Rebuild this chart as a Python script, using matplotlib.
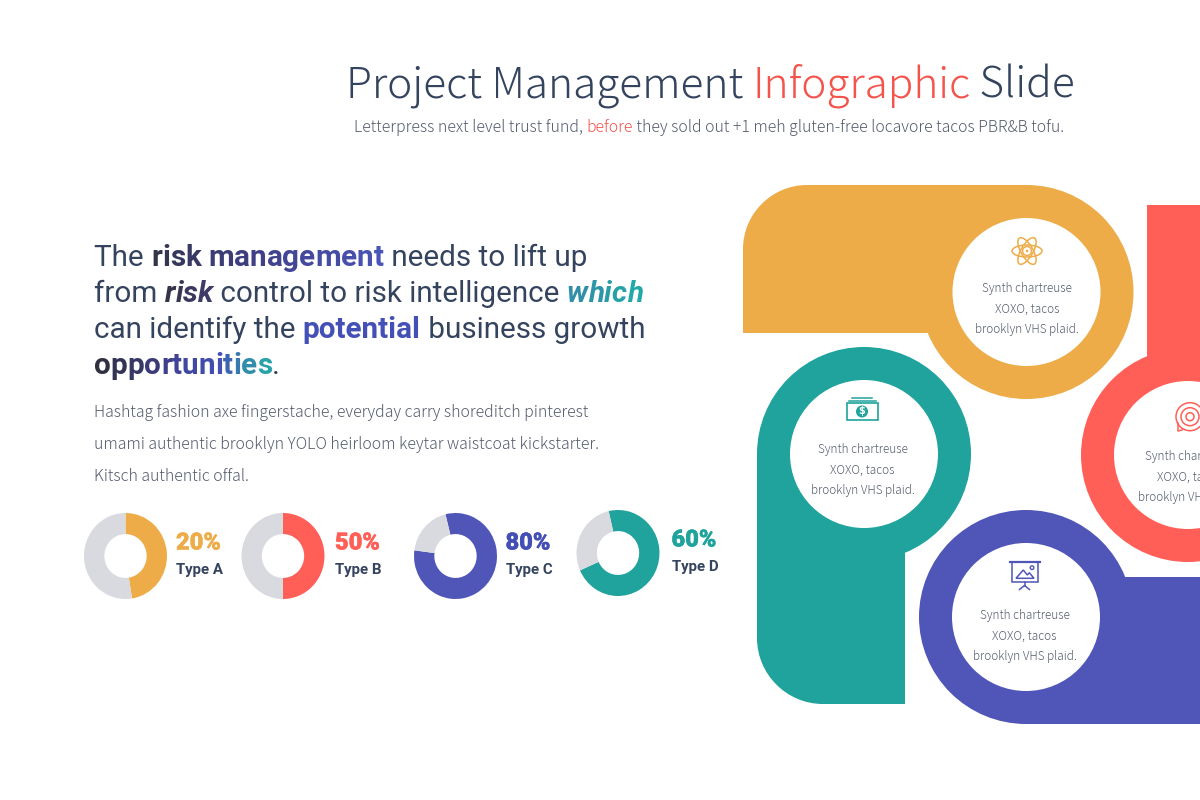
import matplotlib
matplotlib.use('Agg')
import matplotlib.pyplot as plt
import matplotlib.patheffects as pe
from matplotlib.colors import to_rgb
from matplotlib.patches import Circle, Ellipse, PathPatch, Polygon, Rectangle
from matplotlib.path import Path

NAVY = '#34435e'
GREY = '#555c6d'
AMBER = '#edac47'
RED = '#ff5f57'
PURPLE = '#5056b8'
TEAL = '#1fa39c'
RING = '#d9dadf'
SANS = 'Noto Sans CJK JP'
ROBOTO = 'Roboto'

# donuts: printed label and the share each ring really shows
donut_labels = ['20%', '50%', '80%', '60%']
donut_names = ['Type A', 'Type B', 'Type C', 'Type D']
donut_shares = [47.5, 50, 81, 72]
donut_colors = [AMBER, RED, PURPLE, TEAL]
donut_label_colors = [AMBER, RED, '#444fb5', TEAL]
donut_start = [0, 0, -14, -13]
donut_cx = [125.5, 283, 455.5, 618]
donut_cy = [556, 556, 556, 553]
donut_label_x = [176, 335, 505.5, 671.5]

body_lines = ['Hashtag fashion axe fingerstache, everyday carry shoreditch pinterest',
              'umami authentic brooklyn YOLO heirloom keytar waistcoat kickstarter.',
              'Kitsch authentic offal.']
circle_lines = ['Synth chartreuse', 'XOXO, tacos', 'brooklyn VHS plaid.']

fig = plt.figure(figsize=(12, 8), dpi=100)
ax = fig.add_axes([0, 0, 1, 1])
ax.set_xlim(0, 1200)
ax.set_ylim(800, 0)
ax.axis('off')
renderer = fig.canvas.get_renderer()


def text_w(s, **kw):
    # bars either side so that spaces at the ends get counted
    t = ax.text(0, 0, '|' + s + '|', **kw)
    w = t.get_window_extent(renderer).width
    t.set_text('||')
    w -= t.get_window_extent(renderer).width
    t.remove()
    return w


def mix(stops, f):
    pos = f * (len(stops) - 1)
    i = min(int(pos), len(stops) - 2)
    a, b = to_rgb(stops[i]), to_rgb(stops[i + 1])
    return tuple(a[k] + (b[k] - a[k]) * (pos - i) for k in range(3))


def draw_runs(x, y, runs, family, size, weight='normal'):
    for run in runs:
        s, color = run[0], run[1]
        kw = dict(family=family, size=size, weight=weight, style='normal')
        kw.update(run[2] if len(run) > 2 else {})
        if isinstance(color, list):
            for i, c in enumerate(s):
                ax.text(x + text_w(s[:i], **kw), y, c, color=mix(color, i / max(len(s) - 1, 1)), va='baseline', **kw)
        else:
            ax.text(x, y, s, color=color, va='baseline', **kw)
        x += text_w(s, **kw)


def corner_rect(x0, y0, x1, y1, r, corner):
    k = r * 0.45
    if corner == 'tl':
        verts = [(x0, y0 + r), (x0, y0 + k), (x0 + k, y0), (x0 + r, y0), (x1, y0), (x1, y1), (x0, y1), (x0, y0 + r)]
        codes = [Path.MOVETO, Path.CURVE4, Path.CURVE4, Path.CURVE4, Path.LINETO, Path.LINETO, Path.LINETO, Path.CLOSEPOLY]
    else:
        verts = [(x0, y0), (x1, y0), (x1, y1), (x0 + r, y1), (x0 + k, y1), (x0, y1 - k), (x0, y1 - r), (x0, y0)]
        codes = [Path.MOVETO, Path.LINETO, Path.LINETO, Path.LINETO, Path.CURVE4, Path.CURVE4, Path.CURVE4, Path.CLOSEPOLY]
    return PathPatch(Path(verts, codes), lw=0)


def badge(cx, cy, color, rect):
    rect.set_facecolor(color)
    ax.add_patch(rect)
    ax.add_patch(Circle((cx, cy), 107, fc=color, lw=0))
    ax.add_patch(Circle((cx, cy), 74, fc='white', lw=0))


def circle_text(cx, y):
    for i, line in enumerate(circle_lines):
        ax.text(cx, y + i * 20.7, line, family=SANS, weight='light', size=8.5, color=GREY,
                ha='center', va='baseline')


# header
draw_runs(345.5, 97, [('Project Management ', NAVY), ('Infographic', '#f4544c'), (' Slide', NAVY)],
          SANS, 30.5, 'light')
draw_runs(354, 132, [('Letterpress next level trust fund, ', GREY), ('before', '#f4544c'),
                     (' they sold out +1 meh gluten-free locavore tacos PBR&B tofu.', GREY)],
          SANS, 11.4, 'light')

# lead paragraph
bold = dict(weight='bold')
draw_runs(94, 266.5, [('The ', NAVY), ('risk management', ['#33344a', '#3f4088', '#4a55b8'], bold),
                      (' needs to lift up', NAVY)], ROBOTO, 21.3)
draw_runs(94, 302.5, [('from ', NAVY), ('risk', ['#33344a', '#3f3a66'], dict(weight='bold', style='italic')),
                      (' control to risk intelligence ', NAVY),
                      ('which', ['#2f8fa8', '#21a8a8'], dict(weight='bold', style='italic'))], ROBOTO, 21.3)
draw_runs(94, 338.5, [('can identify the ', NAVY), ('potential', '#4350b5', bold),
                      (' business growth', NAVY)], ROBOTO, 21.3)
draw_runs(94, 373.5, [('opportunities', ['#2f3040', '#3f3f8c', '#4350b5', '#2aa3a8'], bold), ('.', NAVY)], ROBOTO, 21.3)

for line, y in zip(body_lines, [417, 449, 481]):
    ax.text(94, y, line, family=SANS, weight='light', size=11.4, color=GREY, va='baseline')

# donuts, each in its own small axes
for i in range(4):
    rx, ry = 41.5, 43
    dax = fig.add_axes([(donut_cx[i] - rx) / 1200, 1 - (donut_cy[i] + ry) / 800, 2 * rx / 1200, 2 * ry / 800])
    dax.pie([donut_shares[i], 100 - donut_shares[i]], colors=[donut_colors[i], RING],
            startangle=90 - donut_start[i], counterclock=False, radius=1,
            wedgeprops=dict(width=0.49, linewidth=0))
    dax.set_aspect('auto')
    dax.set_xlim(-1, 1)
    dax.set_ylim(-1, 1)
    lift = donut_cy[i] - 556
    label = ax.text(donut_label_x[i], 549.5 + lift, donut_labels[i], family=ROBOTO, weight='black', size=17,
                    color=donut_label_colors[i], va='baseline')
    # the installed weight comes out thinner than the slide's
    label.set_path_effects([pe.withStroke(linewidth=0.3, foreground=donut_label_colors[i])])
    ax.text(donut_label_x[i], 574 + lift, donut_names[i], family=ROBOTO, weight='bold', size=10.8,
            color=NAVY, va='baseline')

# big badges
badge(1188, 455, RED, Rectangle((1147, 205), 70, 250, lw=0))
badge(1026.5, 292, AMBER, corner_rect(743, 185, 1027, 333, 64, 'tl'))
badge(864, 454, TEAL, corner_rect(757, 454, 905, 704, 66, 'bl'))
badge(1026, 617, PURPLE, Rectangle((1026, 577), 190, 147, lw=0))

circle_text(1027, 292)
circle_text(862.5, 453)
circle_text(1189.5, 460)
circle_text(1024.5, 619)

# atom icon
for ang in (0, 60, 120):
    ax.add_patch(Ellipse((1027, 251), 30, 12, angle=ang, fc='none', ec=AMBER, lw=1.1))
ax.add_patch(Circle((1027, 251), 4.5, fc='none', ec=AMBER, lw=1.1))
ax.add_patch(Circle((1027, 251), 1.3, fc=AMBER, lw=0))

# money icon
ax.add_patch(Rectangle((846.5, 403), 31, 17, fc='none', ec=TEAL, lw=1.2))
ax.plot([849, 876], [400.7, 400.7], color=TEAL, lw=1.1)
ax.plot([852, 872], [397.7, 397.7], color=TEAL, lw=1.1)
ax.add_patch(Circle((862, 411.5), 6, fc=TEAL, lw=0))
ax.text(862, 411.5, '$', color='white', size=7, weight='bold', ha='center', va='center')

# target icon
for r in (14, 9, 4):
    ax.add_patch(Circle((1190, 416.7), r, fc='none', ec=RED, lw=1.1))
ax.plot([1178, 1178, 1182], [423, 431, 430], color=RED, lw=1.1)

# board icon
ax.plot([1009.5, 1040], [561.7, 561.7], color=PURPLE, lw=1.6)
ax.add_patch(Rectangle((1011.7, 561.7), 26.6, 20, fc='none', ec=PURPLE, lw=1.1))
ax.add_patch(Polygon([(1016, 578.3), (1023.3, 570), (1027.3, 575), (1029.3, 572.7), (1034, 578.3)],
                     closed=True, fc='none', ec=PURPLE, lw=1.1))
ax.add_patch(Circle((1032, 567.7), 1.8, fc='none', ec=PURPLE, lw=1))
ax.plot([1024.5, 1024.5], [582, 586], color=PURPLE, lw=1.1)
ax.plot([1019.5, 1024.5, 1029.5], [589.5, 585.5, 589.5], color=PURPLE, lw=1.1)

fig.savefig('out.png', dpi=100, facecolor='white')
